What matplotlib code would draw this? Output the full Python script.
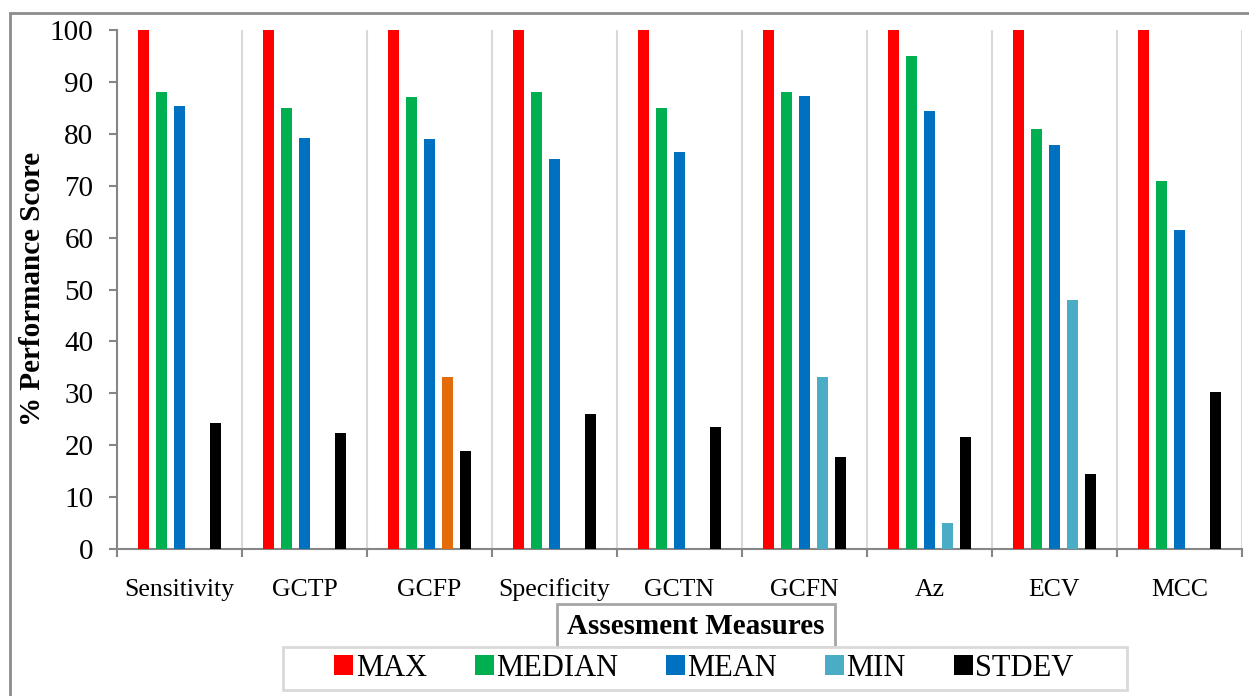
import numpy as np
import matplotlib
matplotlib.use("Agg")
import matplotlib.pyplot as plt
from matplotlib.patches import Patch, Rectangle

plt.rcParams['font.family'] = ['Liberation Serif', 'DejaVu Serif']

categories = ['Sensitivity', 'GCTP', 'GCFP', 'Specificity', 'GCTN',
              'GCFN', 'Az', 'ECV', 'MCC']
series_names = ['MAX', 'MEDIAN', 'MEAN', 'MIN', 'STDEV']

max_vals = [100, 100, 100, 100, 100, 100, 100, 100, 100]
median_vals = [88, 85, 87, 88, 85, 88, 95, 81, 71]
mean_vals = [85.3, 79.2, 79.0, 75.2, 76.5, 87.2, 84.3, 77.8, 61.4]
min_vals = [0, 0, 33.2, 0, 0, 33.1, 5.0, 48.0, 0]
stdev_vals = [24.3, 22.3, 18.8, 26.0, 23.6, 17.8, 21.6, 14.5, 30.2]

colors = ['#FF0000', '#00B050', '#0070C0', '#4BACC6', '#000000']
min_colors = ['#4BACC6'] * len(categories)
min_colors[2] = '#E36C09'   # GCFP min drawn in orange in the original

W, H = 1249, 696
fig = plt.figure(figsize=(W / 100, H / 100), dpi=100)
ax = fig.add_axes([117 / W, 1 - 549 / H, (1242 - 117) / W, (549 - 30) / H])

x = np.arange(len(categories))
step = 0.1425
bw = 0.088
all_vals = [max_vals, median_vals, mean_vals, min_vals, stdev_vals]
for k, vals in enumerate(all_vals):
    c = min_colors if k == 3 else colors[k]
    ax.bar(x + (k - 2) * step, vals, width=bw, color=c, linewidth=0, zorder=3)

ax.set_xlim(-0.5, len(categories) - 0.5)
ax.set_ylim(0, 100)
ax.set_yticks(np.arange(0, 101, 10))

# boundaries carry ticks + gridlines, centers carry labels
ax.set_xticks(np.arange(len(categories) + 1) - 0.5)
ax.set_xticklabels([])
ax.set_xticks(x, minor=True)
ax.set_xticklabels(categories, minor=True, fontsize=18.5, va='baseline')
ax.tick_params(axis='x', which='minor', length=0, pad=34)
ax.tick_params(axis='x', which='major', length=6, width=1.5, color='#868686', direction='out')
ax.tick_params(axis='y', length=6, width=1.5, color='#868686', direction='out',
               labelsize=21, pad=11)
ax.grid(axis='x', which='major', color='#d9d9d9', linewidth=1.5, zorder=0)

for s in ['top', 'right']:
    ax.spines[s].set_visible(False)
for s in ['left', 'bottom']:
    ax.spines[s].set_color('#868686')
    ax.spines[s].set_linewidth(1.5)

fig.text(33 / W, 1 - 289 / H, '% Performance Score', rotation=90,
         ha='center', va='center', fontsize=21, fontweight='bold')

# x-axis title in its own box
fig.patches.append(Rectangle((557 / W, 1 - 647 / H), (835 - 557) / W, (647 - 604) / H,
                             transform=fig.transFigure, fill=False,
                             edgecolor='#a6a6a6', linewidth=2))
fig.text(696 / W, 1 - 626 / H, 'Assesment Measures', ha='center', va='center',
         fontsize=21, fontweight='bold')

# legend box
fig.patches.append(Rectangle((283 / W, 1 - 690 / H), (1127 - 283) / W, (690 - 647) / H,
                             transform=fig.transFigure, facecolor='white',
                             edgecolor='#d9d9d9', linewidth=2, zorder=5))
handles = [Patch(facecolor=c, edgecolor='none') for c in colors]
fig.legend(handles, series_names, loc='center', bbox_to_anchor=(704 / W, 1 - 668 / H),
           ncol=5, frameon=False, fontsize=22, handlelength=0.62, handleheight=0.62,
           handletextpad=0.08, columnspacing=1.57, borderpad=0)

# outer chart frame (only top and left visible in the crop)
fig.patches.append(Rectangle((9.5 / W, -0.1), 1.2, 1 - 12.5 / H + 0.1,
                             transform=fig.transFigure, fill=False,
                             edgecolor='#8c8c8c', linewidth=2))

fig.savefig('out.png', dpi=100)
